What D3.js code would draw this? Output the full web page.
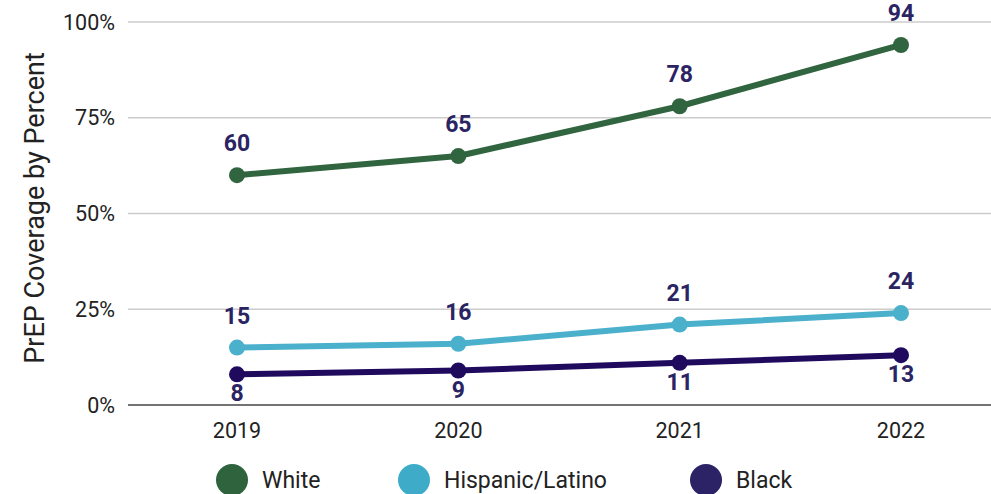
<!DOCTYPE html>
<html>
<head>
<meta charset="utf-8">
<script src="https://cdn.jsdelivr.net/npm/d3@7"></script>
<style>
  html, body { margin: 0; padding: 0; background: #fff; }
  svg { display: block; font-family: Roboto, "Noto Sans", sans-serif; }
</style>
</head>
<body>
<script>
// データ
const years = ["2019", "2020", "2021", "2022"];
const white = [60, 65, 78, 94];
const hispanic = [15, 16, 21, 24];
const black = [8, 9, 11, 13];
const seriesNames = ["White", "Hispanic/Latino", "Black"];
const yTicks = [0, 25, 50, 75, 100];

const width = 991;
const height = 494;

const svg = d3.select("body").append("svg")
    .attr("width", width)
    .attr("height", height);

const x = d3.scalePoint().domain(years).range([237, 901]);
const y = d3.scaleLinear().domain([0, 100]).range([405, 22]);

// グリッド線
svg.append("g")
    .selectAll("line")
    .data(yTicks.filter(d => d > 0))
    .enter()
    .append("line")
    .attr("x1", 128)
    .attr("x2", width)
    .attr("y1", d => y(d))
    .attr("y2", d => y(d))
    .attr("stroke", "#cccccc")
    .attr("stroke-width", 1.5);

// 基線
svg.append("line")
    .attr("x1", 128).attr("x2", width)
    .attr("y1", y(0)).attr("y2", y(0))
    .attr("stroke", "#444").attr("stroke-width", 1.5);

// Y軸ラベル
svg.append("g")
    .selectAll("text")
    .data(yTicks)
    .enter()
    .append("text")
    .attr("x", 115)
    .attr("y", d => y(d))
    .attr("dy", "0.35em")
    .attr("text-anchor", "end")
    .attr("font-size", 21.5)
    .attr("fill", "#222")
    .text(d => d + "%");

// X軸ラベル
svg.append("g")
    .selectAll("text")
    .data(years)
    .enter()
    .append("text")
    .attr("x", d => x(d))
    .attr("y", 438)
    .attr("text-anchor", "middle")
    .attr("font-size", 21.5)
    .attr("fill", "#222")
    .text(d => d);

// Y軸タイトル
svg.append("text")
    .attr("transform", "translate(44,208) rotate(-90)")
    .attr("text-anchor", "middle")
    .attr("font-size", 27)
    .attr("fill", "#222")
    .text("PrEP Coverage by Percent");

const series = [
    { name: seriesNames[0], values: white, color: "#31653f", legend: "#2e633d", above: true },
    { name: seriesNames[1], values: hispanic, color: "#4bb0cb", legend: "#3eacc8", above: true },
    { name: seriesNames[2], values: black, color: "#1f0a5e", legend: "#2c2366", above: false }
];

const line = d3.line()
    .x((d, i) => x(years[i]))
    .y(d => y(d));

for (const s of series) {
    const g = svg.append("g");
    g.append("path")
        .attr("d", line(s.values))
        .attr("fill", "none")
        .attr("stroke", s.color)
        .attr("stroke-width", 6)
        .attr("stroke-linejoin", "round");
    g.selectAll("circle")
        .data(s.values)
        .enter()
        .append("circle")
        .attr("cx", (d, i) => x(years[i]))
        .attr("cy", d => y(d))
        .attr("r", 8)
        .attr("fill", s.color);
    g.selectAll("text")
        .data(s.values)
        .enter()
        .append("text")
        .attr("x", (d, i) => x(years[i]))
        .attr("y", d => s.above ? y(d) - 24 : y(d) + 27)
        .attr("text-anchor", "middle")
        .attr("font-size", 23)
        .attr("font-weight", "bold")
        .attr("fill", "#2b2463")
        .text(d => d);
}

// 凡例
const legendX = [232, 414, 706];
const legend = svg.append("g")
    .selectAll("g")
    .data(series)
    .enter()
    .append("g")
    .attr("transform", (d, i) => `translate(${legendX[i]},480)`);
legend.append("circle")
    .attr("r", 16)
    .attr("fill", d => d.legend);
legend.append("text")
    .attr("x", 30)
    .attr("dy", "0.33em")
    .attr("font-size", 23)
    .attr("fill", "#222")
    .text(d => d.name);
</script>
</body>
</html>
